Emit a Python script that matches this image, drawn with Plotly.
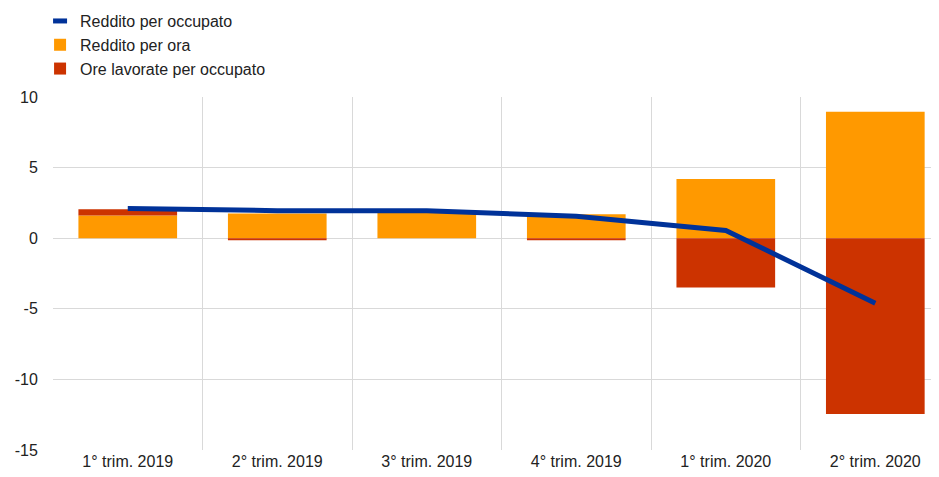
import plotly.graph_objects as go

categories = ["1° trim. 2019", "2° trim. 2019", "3° trim. 2019", "4° trim. 2019", "1° trim. 2020", "2° trim. 2020"]
reddito_per_ora = [1.6, 1.75, 1.8, 1.7, 4.2, 8.95]
ore_lavorate = [0.45, -0.15, 0.0, -0.15, -3.5, -12.45]
reddito_per_occupato = [2.1, 1.95, 1.95, 1.55, 0.55, -4.6]
y_ticks = [10, 5, 0, -5, -10, -15]
y_tick_labels = ["10", "5", "0", "-5", "-10", "-15"]

BLUE = "#003299"
ORANGE = "#FF9900"
RED = "#CC3300"
FONT = "Liberation Sans, Arial, sans-serif"

fig = go.Figure()
fig.add_trace(go.Bar(x=categories, y=reddito_per_ora, name="Reddito per ora",
                     marker=dict(color=ORANGE, line=dict(width=0)), width=0.66, legendrank=2))
fig.add_trace(go.Bar(x=categories, y=ore_lavorate, name="Ore lavorate per occupato",
                     marker=dict(color=RED, line=dict(width=0)), width=0.66, legendrank=3))
fig.add_trace(go.Scatter(x=categories, y=reddito_per_occupato, name="Reddito per occupato",
                         mode="lines", line=dict(color=BLUE, width=5), showlegend=False))
# legend-only entry with a short thick line symbol
fig.add_trace(go.Scatter(x=[categories[0]], y=[None], name="Reddito per occupato",
                         mode="markers", showlegend=True, legendrank=1,
                         marker=dict(symbol="line-ew", size=10, color=BLUE,
                                     line=dict(color=BLUE, width=5))))

fig.update_layout(
    width=939, height=477,
    barmode="relative",
    paper_bgcolor="white", plot_bgcolor="white",
    margin=dict(l=45, r=8, t=89, b=35, autoexpand=False),
    font=dict(family=FONT, size=16, color="#222222"),
    showlegend=True,
    legend=dict(x=-0.0146, y=1.031, xanchor="left", yanchor="bottom", orientation="v",
                font=dict(size=16, color="#222222"), tracegroupgap=0, itemwidth=30,
                bgcolor="rgba(0,0,0,0)"),
    xaxis=dict(type="category", range=[-0.5, 5.426], tickson="boundaries",
               showgrid=True, gridcolor="#d9d9d9", gridwidth=1,
               ticks="outside", ticklen=6, tickcolor="rgba(0,0,0,0)",
               showline=False, zeroline=False, tickfont=dict(size=16), automargin=False),
    yaxis=dict(range=[-15, 10], tickvals=y_ticks, ticktext=y_tick_labels,
               showgrid=True, gridcolor="#d9d9d9", gridwidth=1,
               zeroline=True, zerolinecolor="#d9d9d9", zerolinewidth=1,
               ticks="outside", ticklen=11, tickcolor="rgba(0,0,0,0)",
               tickfont=dict(size=16), showline=False, automargin=False),
)

fig.write_html("out.html")
